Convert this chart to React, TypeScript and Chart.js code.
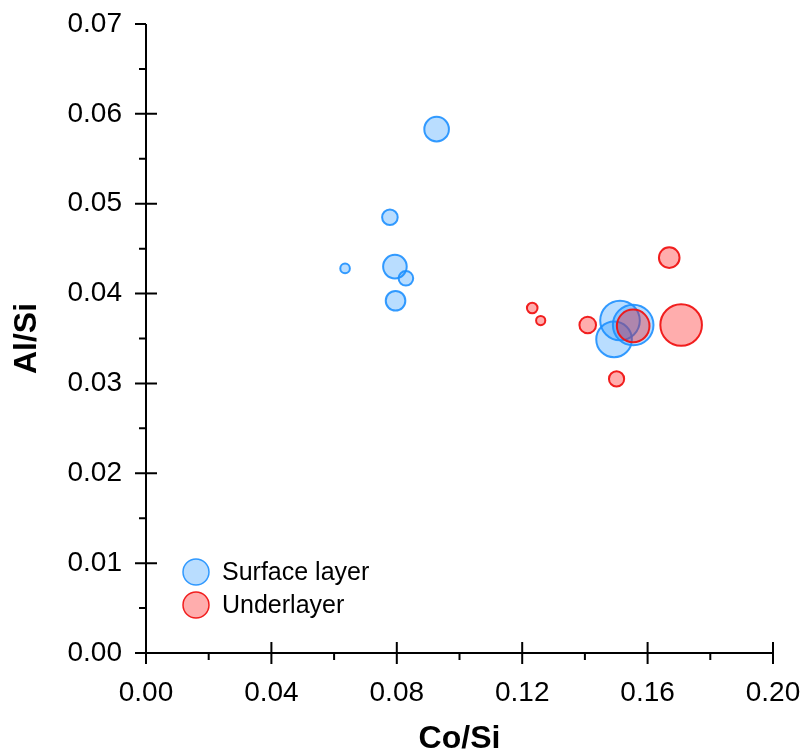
import React, { useEffect, useRef } from "react";
import { Chart, registerables } from "chart.js";

Chart.register(...registerables);

// Surface layer (blue)
const surfaceCoSi = [0.0927, 0.0778, 0.0635, 0.0794, 0.0829, 0.0796, 0.1512, 0.1554, 0.1493];
const surfaceAlSi = [0.0583, 0.0485, 0.0428, 0.0430, 0.0417, 0.0392, 0.0370, 0.0365, 0.0349];
const surfaceSize = [12.3, 7.8, 4.8, 11.8, 7.3, 9.8, 19.8, 20.3, 17.8];

// Underlayer (red)
const underCoSi = [0.1669, 0.1232, 0.1259, 0.1409, 0.1554, 0.1707, 0.1501];
const underAlSi = [0.0440, 0.0384, 0.0370, 0.0365, 0.0364, 0.0365, 0.0305];
const underSize = [10.3, 5.3, 4.6, 8.3, 16.3, 20.8, 7.6];

const xTicks = [0, 0.04, 0.08, 0.12, 0.16, 0.2];
const yTicks = [0, 0.01, 0.02, 0.03, 0.04, 0.05, 0.06, 0.07];
const xMinorTicks = [0.02, 0.06, 0.1, 0.14, 0.18];
const yMinorTicks = [0.005, 0.015, 0.025, 0.035, 0.045, 0.055, 0.065];

const seriesNames = ["Surface layer", "Underlayer"];
const xTitle = "Co/Si";
const yTitle = "Al/Si";

const BLUE_FILL = "rgba(30,144,255,0.31)";
const BLUE_LINE = "rgba(30,144,255,0.9)";
const RED_FILL = "rgba(255,0,0,0.32)";
const RED_LINE = "rgba(240,20,20,0.95)";
const FONT = "'Liberation Sans', Arial, sans-serif";

const zeroPad = (s: any) => {
  s.paddingTop = 0;
  s.paddingBottom = 0;
  s.paddingLeft = 0;
  s.paddingRight = 0;
};

export default function App() {
  const ref = useRef<HTMLCanvasElement | null>(null);

  useEffect(() => {
    document.body.style.margin = "0";
    const canvas = ref.current;
    if (!canvas) return;

    const axesPlugin = {
      id: "customAxes",
      afterDraw(chart: any) {
        const ctx = chart.ctx;
        const xs = chart.scales.x;
        const ys = chart.scales.y;
        const x0 = xs.getPixelForValue(0);
        const y0 = ys.getPixelForValue(0);
        const yTop = ys.getPixelForValue(0.07);
        const xRight = xs.getPixelForValue(0.2);
        ctx.save();
        ctx.strokeStyle = "#000";
        ctx.lineWidth = 2;
        ctx.lineCap = "butt";
        ctx.beginPath();
        ctx.moveTo(x0, yTop);
        ctx.lineTo(x0, y0);
        ctx.moveTo(x0, y0);
        ctx.lineTo(xRight, y0);
        yTicks.forEach((v) => {
          const p = ys.getPixelForValue(v);
          ctx.moveTo(x0 - 11, p);
          ctx.lineTo(v === 0.07 ? x0 : x0 + 11, p);
        });
        yMinorTicks.forEach((v) => {
          const p = ys.getPixelForValue(v);
          ctx.moveTo(x0 - 7, p);
          ctx.lineTo(x0, p);
        });
        xTicks.forEach((v) => {
          const p = xs.getPixelForValue(v);
          ctx.moveTo(p, y0 - 11);
          ctx.lineTo(p, y0 + 11);
        });
        xMinorTicks.forEach((v) => {
          const p = xs.getPixelForValue(v);
          ctx.moveTo(p, y0);
          ctx.lineTo(p, y0 + 7);
        });
        ctx.stroke();

        // legend
        const lx = x0 + 50;
        const ly = [572, 605];
        const fills = [BLUE_FILL, RED_FILL];
        const lines = [BLUE_LINE, RED_LINE];
        ctx.font = "25px " + FONT;
        ctx.textBaseline = "middle";
        ctx.textAlign = "left";
        seriesNames.forEach((name, i) => {
          ctx.beginPath();
          ctx.arc(lx, ly[i], 13, 0, Math.PI * 2);
          ctx.fillStyle = fills[i];
          ctx.fill();
          ctx.lineWidth = 1.5;
          ctx.strokeStyle = lines[i];
          ctx.stroke();
          ctx.fillStyle = "#000";
          ctx.fillText(name, lx + 26, ly[i] + 1);
        });
        ctx.restore();
      },
    };

    const chart = new Chart(canvas, {
      type: "bubble",
      data: {
        datasets: [
          {
            label: seriesNames[1],
            data: underCoSi.map((x, i) => ({ x, y: underAlSi[i], r: underSize[i] })),
            backgroundColor: RED_FILL,
            borderColor: RED_LINE,
            borderWidth: 2,
            order: 0,
          },
          {
            label: seriesNames[0],
            data: surfaceCoSi.map((x, i) => ({ x, y: surfaceAlSi[i], r: surfaceSize[i] })),
            backgroundColor: BLUE_FILL,
            borderColor: BLUE_LINE,
            borderWidth: 2,
            order: 1,
          },
        ],
      },
      options: {
        responsive: false,
        animation: false,
        layout: { padding: { left: 0, top: 24, right: 33, bottom: 0 } },
        plugins: {
          legend: { display: false },
          tooltip: { enabled: false },
        },
        scales: {
          x: {
            type: "linear",
            min: 0,
            max: 0.2,
            grid: { display: false, drawTicks: false },
            border: { display: false },
            ticks: {
              stepSize: 0.04,
              padding: 23,
              color: "#000",
              font: { family: FONT, size: 28 },
              callback: (v: any) => Number(v).toFixed(2),
            },
            title: {
              display: true,
              text: xTitle,
              color: "#000",
              font: { family: FONT, size: 32, weight: "bold", lineHeight: 1 },
              padding: { top: 0, bottom: 1 },
            },
            afterFit: (s: any) => {
              s.height = 103;
              zeroPad(s);
            },
          },
          y: {
            type: "linear",
            min: 0,
            max: 0.07,
            grid: { display: false, drawTicks: false },
            border: { display: false },
            ticks: {
              stepSize: 0.01,
              padding: 24,
              color: "#000",
              font: { family: FONT, size: 28 },
              callback: (v: any) => Number(v).toFixed(2),
            },
            title: {
              display: true,
              text: yTitle,
              color: "#000",
              font: { family: FONT, size: 32, weight: "bold", lineHeight: 1 },
              padding: { top: 11, bottom: 0 },
            },
            afterFit: (s: any) => {
              s.width = 146;
              zeroPad(s);
            },
          },
        },
      },
      plugins: [axesPlugin],
    } as any);

    return () => chart.destroy();
  }, []);

  return (
    <div style={{ width: 806, height: 756, background: "#fff" }}>
      <canvas ref={ref} width={806} height={756} style={{ display: "block" }} />
    </div>
  );
}
